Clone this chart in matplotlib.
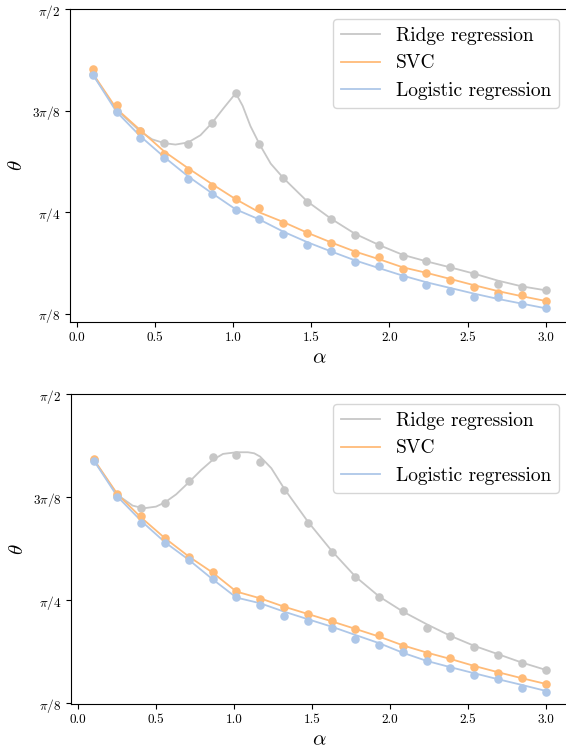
import numpy as np
import matplotlib
matplotlib.use("Agg")
import matplotlib.pyplot as plt

plt.rcParams['font.family'] = ['cmr10', 'DejaVu Serif']
plt.rcParams['mathtext.fontset'] = 'cm'
plt.rcParams['axes.unicode_minus'] = False
plt.rcParams['axes.formatter.use_mathtext'] = True

# ---- data (theta values in units of pi/8) ----
alpha = [0.1, 0.253, 0.405, 0.558, 0.711, 0.863, 1.016, 1.168, 1.321, 1.474,
         1.626, 1.779, 1.932, 2.084, 2.237, 2.389, 2.542, 2.695, 2.847, 3.0]

labels = ["Ridge regression", "SVC", "Logistic regression"]

# top panel: simulation points
top_ridge_pts = [3.364, 3.0, 2.803, 2.682, 2.675, 2.882, 3.174, 2.672, 2.334, 2.102,
                 1.934, 1.780, 1.675, 1.574, 1.518, 1.462, 1.393, 1.298, 1.266, 1.233]
top_svc_pts = [3.410, 3.059, 2.803, 2.580, 2.420, 2.259, 2.131, 2.043, 1.898, 1.793,
               1.702, 1.600, 1.557, 1.443, 1.403, 1.338, 1.262, 1.207, 1.184, 1.128]
top_log_pts = [3.354, 2.990, 2.731, 2.538, 2.331, 2.180, 2.020, 1.931, 1.787, 1.675,
               1.616, 1.515, 1.475, 1.361, 1.289, 1.223, 1.167, 1.164, 1.098, 1.056]

# top panel: theory curves
top_ridge_x = [0.1, 0.253, 0.405, 0.48, 0.558, 0.63, 0.711, 0.79, 0.863, 0.94, 1.016,
               1.06, 1.11, 1.168, 1.24, 1.321, 1.474, 1.626, 1.779, 1.932, 2.084,
               2.237, 2.389, 2.542, 2.695, 2.847, 3.0]
top_ridge_line = [3.36, 3.01, 2.797, 2.72, 2.682, 2.668, 2.689, 2.76, 2.879, 3.03, 3.174,
                  3.05, 2.85, 2.672, 2.48, 2.338, 2.108, 1.938, 1.79, 1.68, 1.583,
                  1.518, 1.459, 1.397, 1.328, 1.272, 1.233]
top_svc_line = [3.37, 3.02, 2.81, 2.60, 2.435, 2.28, 2.13, 2.00, 1.905, 1.80,
                1.705, 1.615, 1.54, 1.46, 1.405, 1.345, 1.283, 1.225, 1.175, 1.128]
top_log_line = [3.36, 2.99, 2.75, 2.545, 2.355, 2.19, 2.03, 1.93, 1.81, 1.707,
                1.616, 1.528, 1.452, 1.378, 1.312, 1.256, 1.200, 1.148, 1.102, 1.056]

# bottom panel: simulation points
bot_ridge_pts = [3.362, 3.016, 2.893, 2.945, 3.159, 3.388, 3.411, 3.343, 3.068, 2.748,
                 2.469, 2.223, 2.036, 1.900, 1.731, 1.654, 1.547, 1.472, 1.388, 1.324]
bot_svc_pts = [3.369, 3.029, 2.819, 2.602, 2.417, 2.278, 2.091, 2.013, 1.932, 1.864,
               1.799, 1.718, 1.667, 1.557, 1.482, 1.437, 1.353, 1.298, 1.243, 1.188]
bot_log_pts = [3.356, 3.006, 2.751, 2.553, 2.388, 2.204, 2.032, 1.958, 1.851, 1.799,
               1.735, 1.625, 1.563, 1.495, 1.411, 1.340, 1.278, 1.236, 1.152, 1.110]

# bottom panel: theory curves
bot_ridge_x = [0.1, 0.253, 0.35, 0.42, 0.5, 0.558, 0.63, 0.711, 0.79, 0.863, 0.93, 1.016,
               1.09, 1.13, 1.168, 1.24, 1.321, 1.474, 1.626, 1.779, 1.932, 2.084, 2.237,
               2.389, 2.542, 2.695, 2.847, 3.0]
bot_ridge_line = [3.362, 3.023, 2.919, 2.893, 2.909, 2.951, 3.029, 3.146, 3.265, 3.362,
                  3.421, 3.437, 3.437, 3.427, 3.395, 3.282, 3.087, 2.764, 2.482, 2.230,
                  2.036, 1.890, 1.767, 1.654, 1.557, 1.476, 1.395, 1.324]
bot_svc_line = [3.37, 3.029, 2.803, 2.602, 2.424, 2.269, 2.084, 2.019, 1.938, 1.867,
                1.796, 1.722, 1.647, 1.562, 1.492, 1.430, 1.362, 1.301, 1.243, 1.188]
bot_log_line = [3.36, 3.006, 2.770, 2.563, 2.392, 2.204, 2.026, 1.971, 1.890, 1.816,
                1.744, 1.663, 1.583, 1.49, 1.411, 1.350, 1.291, 1.233, 1.178, 1.120]

yticks = [1, 2, 3, 4]
yticklabels = [r"$\pi/8$", r"$\pi/4$", r"$3\pi/8$", r"$\pi/2$"]
xticks = [0.0, 0.5, 1.0, 1.5, 2.0, 2.5, 3.0]

colors = ["#c7c7c7", "#ffbb78", "#aec7e8"]
U = np.pi / 8

fig = plt.figure(figsize=(5.66, 7.49), dpi=100)
ax_top = fig.add_axes([0.1237, 0.5705, 1.0041 - 0.1237, 0.9876 - 0.5705])
ax_bot = fig.add_axes([0.1255, 0.0597, 1.0041 - 0.1255, 0.4736 - 0.0597])

panels = [
    (ax_top, [(top_ridge_x, top_ridge_line), (alpha, top_svc_line), (alpha, top_log_line)],
     [top_ridge_pts, top_svc_pts, top_log_pts], 0.924),
    (ax_bot, [(bot_ridge_x, bot_ridge_line), (alpha, bot_svc_line), (alpha, bot_log_line)],
     [bot_ridge_pts, bot_svc_pts, bot_log_pts], 0.99),
]

for ax, lines, pts, ylow in panels:
    for (lx, ly), p, c, lab in zip(lines, pts, colors, labels):
        ax.plot(lx, np.array(ly) * U, color=c, lw=1.3, label=lab, zorder=2,
                solid_joinstyle='round')
        ax.scatter(alpha, np.array(p) * U, color=c, s=38, zorder=3, linewidths=0)
    ax.set_xlim(-0.045, 3.145)
    ax.set_ylim(ylow * U, 4 * U)
    ax.set_yticks(np.array(yticks) * U)
    ax.set_yticklabels(yticklabels)
    ax.set_xticks(xticks)
    ax.set_xticklabels([f"{v:.1f}" for v in xticks])
    ax.tick_params(labelsize=9.5)
    ax.set_xlabel(r"$\alpha$", fontsize=15)
    ax.set_ylabel(r"$\theta$", fontsize=15)
    ax.legend(loc="upper right", fontsize=14)

fig.savefig("out.png", dpi=100)
